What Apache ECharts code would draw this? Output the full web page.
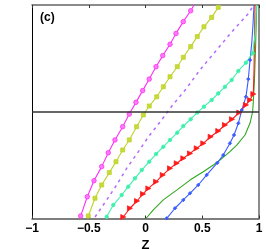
<!DOCTYPE html>
<html><head><meta charset="utf-8">
<style>html,body{margin:0;padding:0;background:#fff}#c{width:266px;height:249px}</style>
<script src="https://cdn.jsdelivr.net/npm/echarts@6/dist/echarts.min.js"></script>
</head><body><div id="c"></div>
<script>
// x tick labels
var xTicks = [-1, -0.5, 0, 0.5, 1];
// curve data (x = Z value, y = normalized height)
var magentaX = [-0.571,-0.513,-0.454,-0.386,-0.328,-0.269,-0.201,-0.143,-0.084,-0.025,0.033,0.093,0.152,0.216,0.269,0.333,0.398,0.427];
var magentaY = [0.012,0.102,0.177,0.243,0.308,0.368,0.430,0.489,0.544,0.599,0.653,0.711,0.763,0.816,0.867,0.922,0.973,1.0];
var yellowX = [-0.504,-0.445,-0.386,-0.319,-0.260,-0.201,-0.143,-0.078,-0.019,0.033,0.099,0.157,0.216,0.280,0.333,0.398,0.456,0.515,0.583,0.641,0.656];
var yellowY = [0.012,0.095,0.157,0.215,0.266,0.321,0.368,0.430,0.485,0.527,0.570,0.617,0.664,0.711,0.755,0.805,0.852,0.898,0.942,0.989,1.0];
var purpleX = [-0.445,-0.342,-0.254,-0.166,-0.063,0.025,0.128,0.233,0.357,0.480,0.612,0.744,0.921,0.947];
var purpleY = [0.007,0.087,0.157,0.235,0.313,0.382,0.452,0.527,0.607,0.696,0.780,0.864,0.969,1.0];
var cyanX = [-0.342,-0.284,-0.210,-0.152,-0.093,-0.033,0.033,0.093,0.157,0.216,0.280,0.333,0.398,0.456,0.515,0.583,0.641,0.700,0.759,0.818,0.885,0.944,0.965,0.978];
var cyanY = [0.008,0.063,0.110,0.149,0.188,0.227,0.266,0.302,0.336,0.368,0.402,0.433,0.465,0.496,0.524,0.555,0.586,0.617,0.649,0.691,0.730,0.774,0.859,1.0];
var redX = [-0.196,-0.137,-0.075,-0.022,0.025,0.093,0.152,0.216,0.275,0.333,0.392,0.451,0.509,0.574,0.641,0.700,0.762,0.826,0.885,0.921,0.950,0.956,0.960,0.965];
var redY = [0.007,0.048,0.082,0.115,0.141,0.172,0.204,0.235,0.259,0.282,0.305,0.329,0.352,0.383,0.410,0.438,0.465,0.496,0.532,0.555,0.583,0.696,0.836,1.0];
var blueX = [0.187,0.260,0.333,0.392,0.465,0.539,0.633,0.685,0.744,0.780,0.818,0.848,0.885,0.906,0.921,0.936,0.947,0.956];
var blueY = [0.001,0.048,0.087,0.118,0.157,0.204,0.261,0.297,0.352,0.391,0.446,0.508,0.570,0.653,0.742,0.821,0.906,1.0];
var greenX = [0.004,0.069,0.157,0.275,0.392,0.509,0.627,0.744,0.804,0.877,0.921,0.944,0.950,0.960,0.969,0.980];
var greenY = [0.0,0.040,0.087,0.133,0.180,0.219,0.261,0.313,0.344,0.391,0.447,0.500,0.547,0.649,0.789,1.0];
var refLineY = 0.5;

function pts(xs, ys, markLimit) {
  return xs.map(function (x, i) {
    var item = { value: [x, ys[i]] };
    if (ys[i] > markLimit) item.symbol = 'none';
    return item;
  });
}
function mk(name, xs, ys, color, symbol, size, opts) {
  opts = opts || {};
  return Object.assign({
    name: name, type: 'line', data: pts(xs, ys, opts.markLimit === undefined ? 0.995 : opts.markLimit),
    symbol: symbol, symbolSize: size, showAllSymbol: true, smooth: false,
    lineStyle: { color: color, width: opts.dash ? 1.5 : 1.1, type: opts.dash ? [3, 4] : 'solid' },
    itemStyle: { color: opts.fill || color, borderColor: color, borderWidth: 0.8 },
    emphasis: { disabled: true }, animation: false, z: opts.z || 2
  }, opts.extra || {});
}
var fmt = function (v) { return v < 0 ? '\u2212' + Math.abs(v) : String(v); };
var chart = echarts.init(document.getElementById('c'), null, { renderer: 'canvas' });
chart.setOption({
  animation: false,
  grid: { left: 32, right: 7, top: 5, bottom: 30.5, containLabel: false, outerBoundsMode: 'none' },
  xAxis: [{
    type: 'value', min: xTicks[0], max: xTicks[xTicks.length - 1], interval: 0.5,
    name: 'Z', nameLocation: 'middle', nameGap: 16,
    nameTextStyle: { fontFamily: 'Liberation Sans, Arial', fontWeight: 'bold', fontSize: 13, color: '#000' },
    axisLine: { show: true, onZero: false, lineStyle: { color: '#555', width: 1.5 } },
    axisTick: { show: true, inside: true, length: 3, lineStyle: { color: '#333' } },
    axisLabel: { margin: 4, fontFamily: 'Liberation Sans, Arial', fontWeight: 'bold', fontSize: 12, color: '#000', formatter: fmt },
    splitLine: { show: false }
  }, {
    type: 'value', position: 'top', min: -1, max: 1, interval: 0.5,
    axisLine: { show: true, onZero: false, lineStyle: { color: '#666', width: 1.5 } },
    axisTick: { show: true, inside: true, length: 3, lineStyle: { color: '#333' } },
    axisLabel: { show: false }, splitLine: { show: false }
  }],
  yAxis: [{
    type: 'value', min: 0, max: 1,
    axisLine: { show: true, onZero: false, lineStyle: { color: '#000', width: 1 } },
    axisTick: { show: false }, axisLabel: { show: false }, splitLine: { show: false }
  }, {
    type: 'value', min: 0, max: 1, position: 'right',
    axisLine: { show: true, onZero: false, lineStyle: { color: '#666', width: 1.5 } },
    axisTick: { show: false }, axisLabel: { show: false }, splitLine: { show: false }
  }],
  graphic: [{ type: 'text', left: 40, top: 12, style: { text: '(c)', font: 'bold 12px "Liberation Sans", Arial', fill: '#000' } }],
  series: [
    mk('green', greenX, greenY, '#2fa81e', 'none', 0),
    mk('blue', blueX, blueY, '#3a5cff', 'diamond', 3.5, { markLimit: 0.8 }),
    mk('red', redX, redY, '#ff1a1a', 'triangle', 5, { markLimit: 0.6, extra: { symbolRotate: -90 } }),
    mk('cyan', cyanX, cyanY, '#3ff0ad', 'circle', 3.5, { markLimit: 0.8 }),
    mk('purple', purpleX, purpleY, '#b06bff', 'none', 0, { dash: true }),
    mk('yellow', yellowX, yellowY, '#bfd22a', 'rect', 4, { fill: '#c8da3a' }),
    mk('magenta', magentaX, magentaY, '#ff2ff5', 'circle', 4.5, { fill: '#ff7af7' }),
    { type: 'line', data: [], markLine: { silent: true, symbol: 'none', label: { show: false },
        lineStyle: { color: '#333', width: 1.5, type: 'solid' }, data: [{ yAxis: refLineY }] }, z: 5 }
  ]
});
</script></body></html>
